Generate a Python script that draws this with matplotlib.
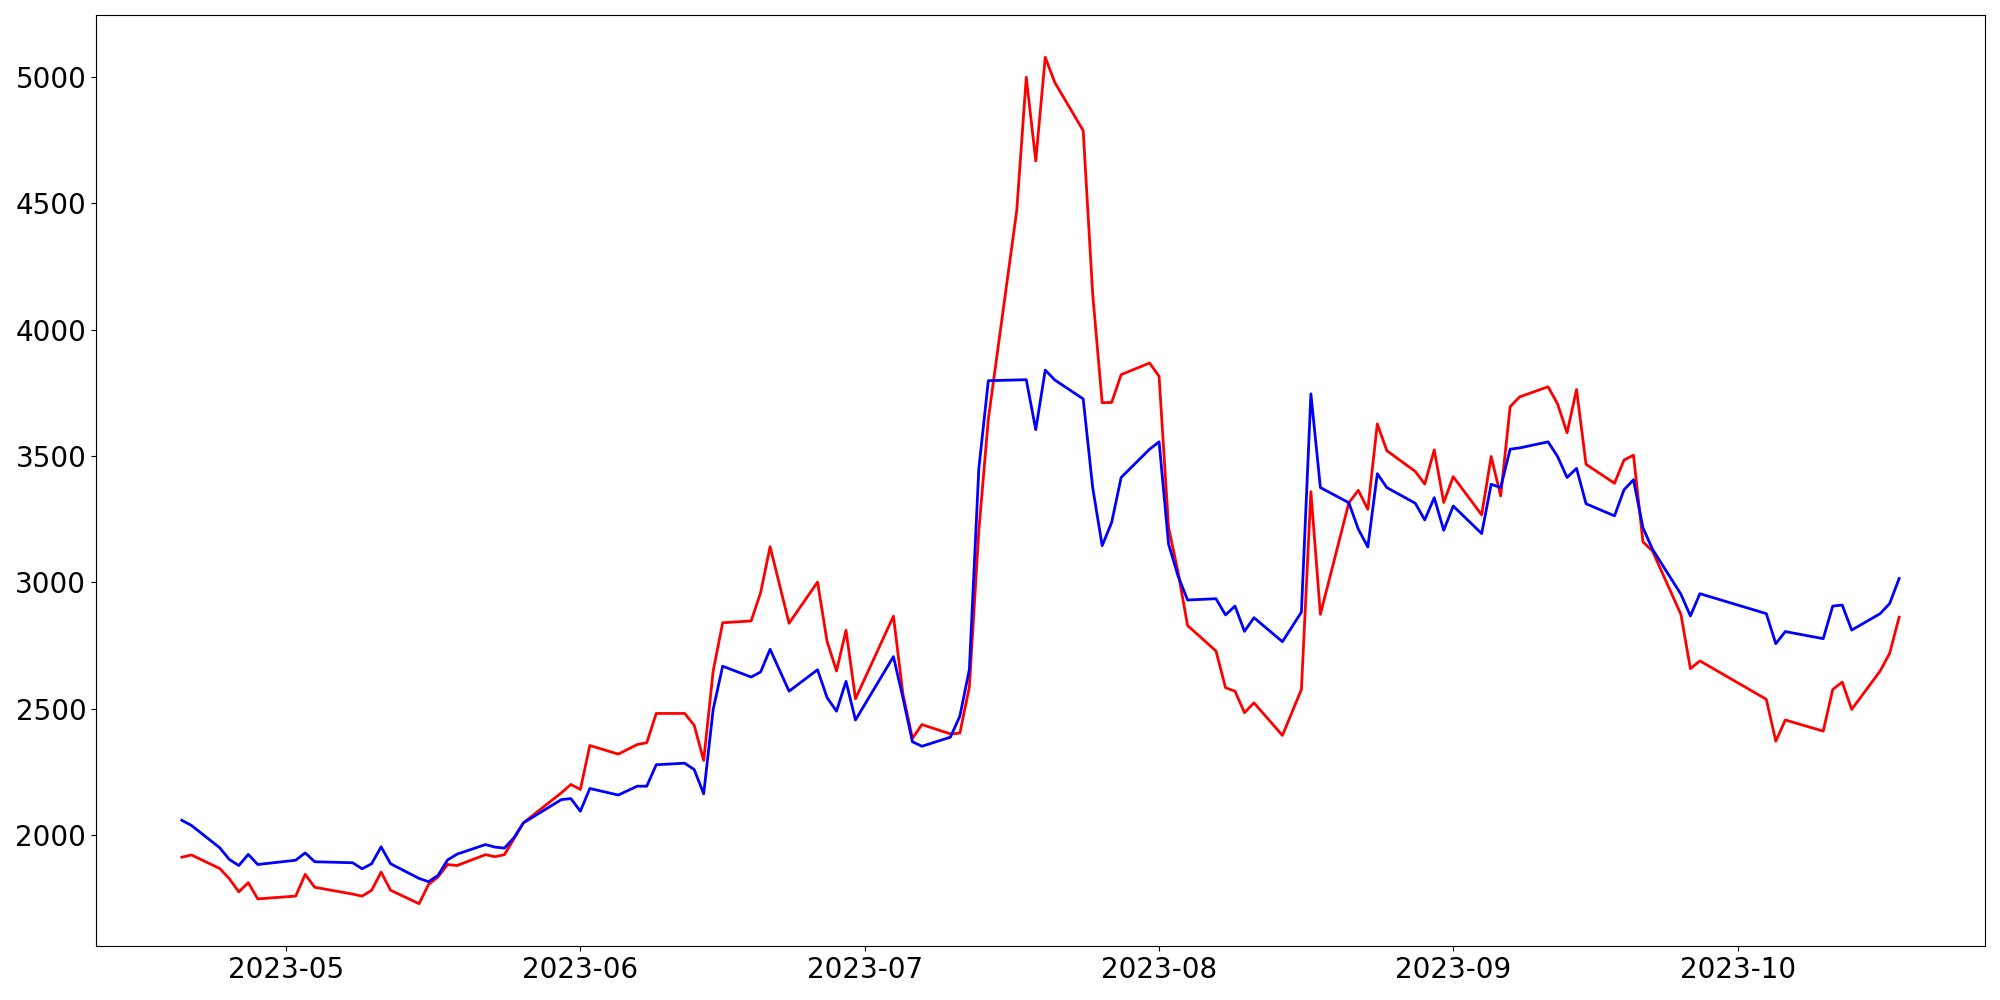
import matplotlib
matplotlib.use("Agg")
import matplotlib.pyplot as plt
import pandas as pd

# trading days (KRX calendar, a few days missing in the source)
dates = [
    "2023-04-20", "2023-04-21", "2023-04-24", "2023-04-25", "2023-04-26", "2023-04-27", "2023-04-28",
    "2023-05-02", "2023-05-03", "2023-05-04", "2023-05-08", "2023-05-09", "2023-05-10", "2023-05-11",
    "2023-05-12", "2023-05-15", "2023-05-16", "2023-05-17", "2023-05-18", "2023-05-19", "2023-05-22",
    "2023-05-23", "2023-05-24", "2023-05-25", "2023-05-26", "2023-05-30", "2023-05-31",
    "2023-06-01", "2023-06-02", "2023-06-05", "2023-06-07", "2023-06-08", "2023-06-09", "2023-06-12",
    "2023-06-13", "2023-06-14", "2023-06-15", "2023-06-16", "2023-06-19", "2023-06-20", "2023-06-21",
    "2023-06-23", "2023-06-26", "2023-06-27", "2023-06-28", "2023-06-29", "2023-06-30",
    "2023-07-04", "2023-07-05", "2023-07-06", "2023-07-07", "2023-07-10", "2023-07-11", "2023-07-12",
    "2023-07-13", "2023-07-14", "2023-07-17", "2023-07-18", "2023-07-19", "2023-07-20", "2023-07-21",
    "2023-07-24", "2023-07-25", "2023-07-26", "2023-07-27", "2023-07-28", "2023-07-31",
    "2023-08-01", "2023-08-02", "2023-08-03", "2023-08-04", "2023-08-07", "2023-08-08", "2023-08-09",
    "2023-08-10", "2023-08-11", "2023-08-14", "2023-08-16", "2023-08-17", "2023-08-18", "2023-08-21",
    "2023-08-22", "2023-08-23", "2023-08-24", "2023-08-25", "2023-08-28", "2023-08-29", "2023-08-30",
    "2023-08-31", "2023-09-01", "2023-09-04", "2023-09-05", "2023-09-06", "2023-09-07", "2023-09-08",
    "2023-09-11", "2023-09-12", "2023-09-13", "2023-09-14", "2023-09-15", "2023-09-18", "2023-09-19",
    "2023-09-20", "2023-09-21", "2023-09-22", "2023-09-25", "2023-09-26", "2023-09-27",
    "2023-10-04", "2023-10-05", "2023-10-06", "2023-10-10", "2023-10-11", "2023-10-12", "2023-10-13",
    "2023-10-16", "2023-10-17", "2023-10-18",
]

red_vals = [
    1912, 1921, 1867, 1827, 1775, 1811, 1747,
    1758, 1844, 1793, 1766, 1758, 1781, 1853,
    1781, 1728, 1804, 1834, 1883, 1879, 1922,
    1914, 1922, 1985, 2048, 2167, 2200,
    2180, 2354, 2320, 2358, 2365, 2481, 2481,
    2434, 2295, 2649, 2840, 2847, 2959, 3141,
    2838, 3001, 2767, 2649, 2810, 2539,
    2866, 2558, 2382, 2437, 2400, 2403, 2585,
    3205, 3646, 4473, 4999, 4668, 5078, 4979,
    4788, 4141, 3711, 3712, 3822, 3868,
    3815, 3216, 3040, 2829, 2728, 2583, 2569,
    2484, 2523, 2394, 2576, 3359, 2873, 3315,
    3364, 3289, 3627, 3521, 3439, 3389, 3524,
    3316, 3418, 3267, 3498, 3342, 3695, 3734,
    3774, 3706, 3592, 3763, 3467, 3392, 3484,
    3503, 3160, 3124, 2873, 2658, 2689,
    2537, 2371, 2455, 2411, 2576, 2605, 2497,
    2649, 2719, 2862,
]

blue_vals = [
    2058, 2038, 1949, 1903, 1879, 1923, 1883,
    1900, 1929, 1894, 1890, 1866, 1886, 1953,
    1886, 1828, 1815, 1840, 1901, 1924, 1962,
    1952, 1948, 1989, 2048, 2140, 2144,
    2094, 2184, 2158, 2193, 2193, 2278, 2284,
    2259, 2163, 2497, 2668, 2625, 2645, 2735,
    2569, 2654, 2544, 2490, 2608, 2455,
    2706, 2543, 2369, 2351, 2387, 2470, 2655,
    3450, 3798, 3801, 3802, 3604, 3840, 3801,
    3726, 3375, 3145, 3237, 3415, 3527,
    3556, 3151, 3025, 2930, 2935, 2871, 2906,
    2806, 2860, 2765, 2882, 3746, 3375, 3315,
    3210, 3140, 3430, 3375, 3313, 3247, 3335,
    3206, 3302, 3193, 3388, 3375, 3527, 3532,
    3556, 3498, 3415, 3451, 3311, 3263, 3366,
    3406, 3216, 3131, 2953, 2867, 2955,
    2876, 2757, 2805, 2777, 2906, 2910, 2811,
    2876, 2916, 3015,
]

x = pd.to_datetime(dates)

fig, ax = plt.subplots(figsize=(20, 10), dpi=100)
ax.plot(x, red_vals, color="red", linewidth=2)
ax.plot(x, blue_vals, color="blue", linewidth=2)
ax.tick_params(labelsize=20)
plt.subplots_adjust(left=0.048, right=0.9925, bottom=0.054, top=0.985)
plt.savefig("out.png")
